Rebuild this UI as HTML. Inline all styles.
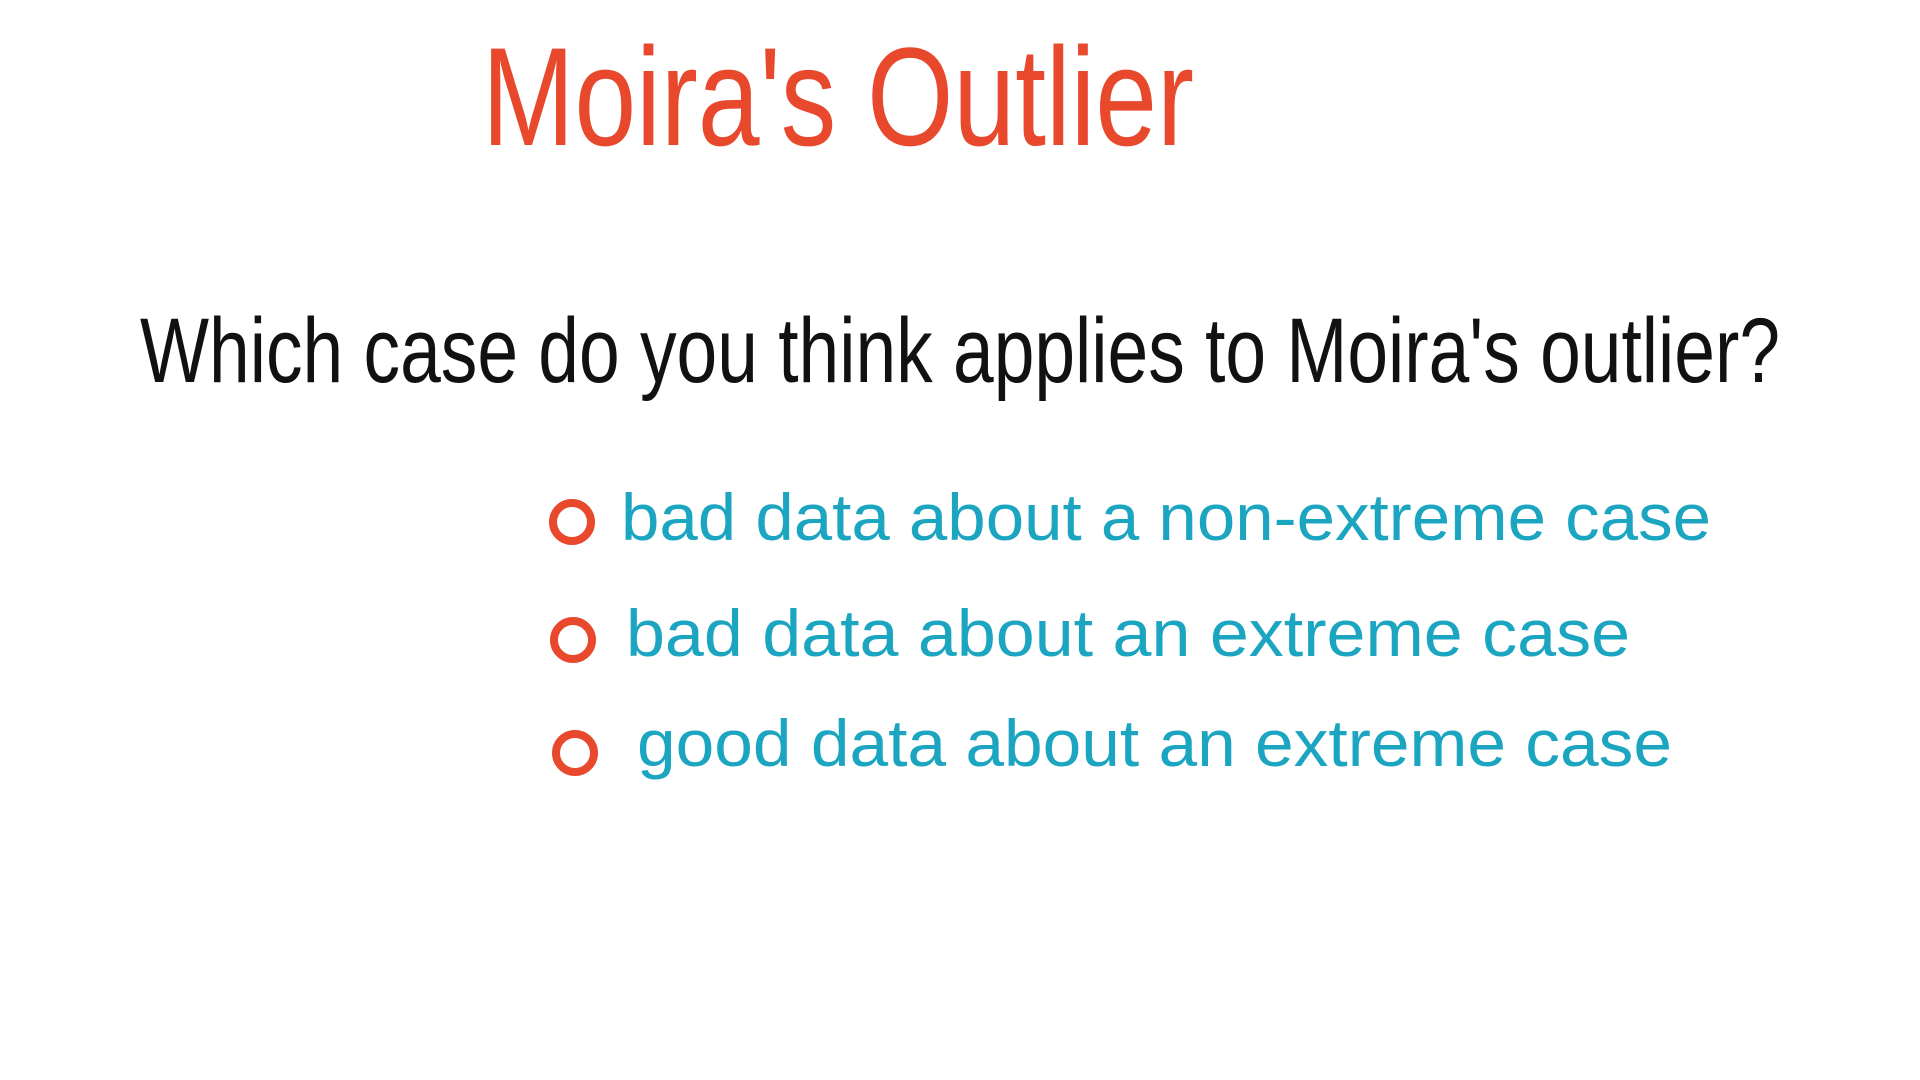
<!DOCTYPE html>
<html>
<head>
<meta charset="utf-8">
<style>
  html, body { margin: 0; padding: 0; background: #ffffff; }
  body { width: 1920px; height: 1080px; overflow: hidden; }
  svg { display: block; }
  text { font-family: "Liberation Sans", "DejaVu Sans", sans-serif; }
</style>
</head>
<body>
<svg width="1920" height="1080" viewBox="0 0 1920 1080">
  <rect x="0" y="0" width="1920" height="1080" fill="#ffffff"/>
  <text x="482" y="145" font-size="140" fill="#e8482c" textLength="712" lengthAdjust="spacingAndGlyphs">Moira's Outlier</text>
  <text x="140" y="382" font-size="92" fill="#111111" textLength="1640" lengthAdjust="spacingAndGlyphs">Which case do you think applies to Moira's outlier?</text>

  <g>
    <circle cx="572" cy="522" r="19" fill="none" stroke="#e8482c" stroke-width="8"/>
    <text x="621" y="540" font-size="66" fill="#1ba5c0" textLength="1090" lengthAdjust="spacingAndGlyphs">bad data about a non-extreme case</text>
  </g>
  <g>
    <circle cx="573" cy="640" r="19" fill="none" stroke="#e8482c" stroke-width="8"/>
    <text x="626" y="656" font-size="66" fill="#1ba5c0" textLength="1004" lengthAdjust="spacingAndGlyphs">bad data about an extreme case</text>
  </g>
  <g>
    <circle cx="575" cy="753" r="19" fill="none" stroke="#e8482c" stroke-width="8"/>
    <text x="637" y="766" font-size="66" fill="#1ba5c0" textLength="1035" lengthAdjust="spacingAndGlyphs">good data about an extreme case</text>
  </g>
</svg>
</body>
</html>
